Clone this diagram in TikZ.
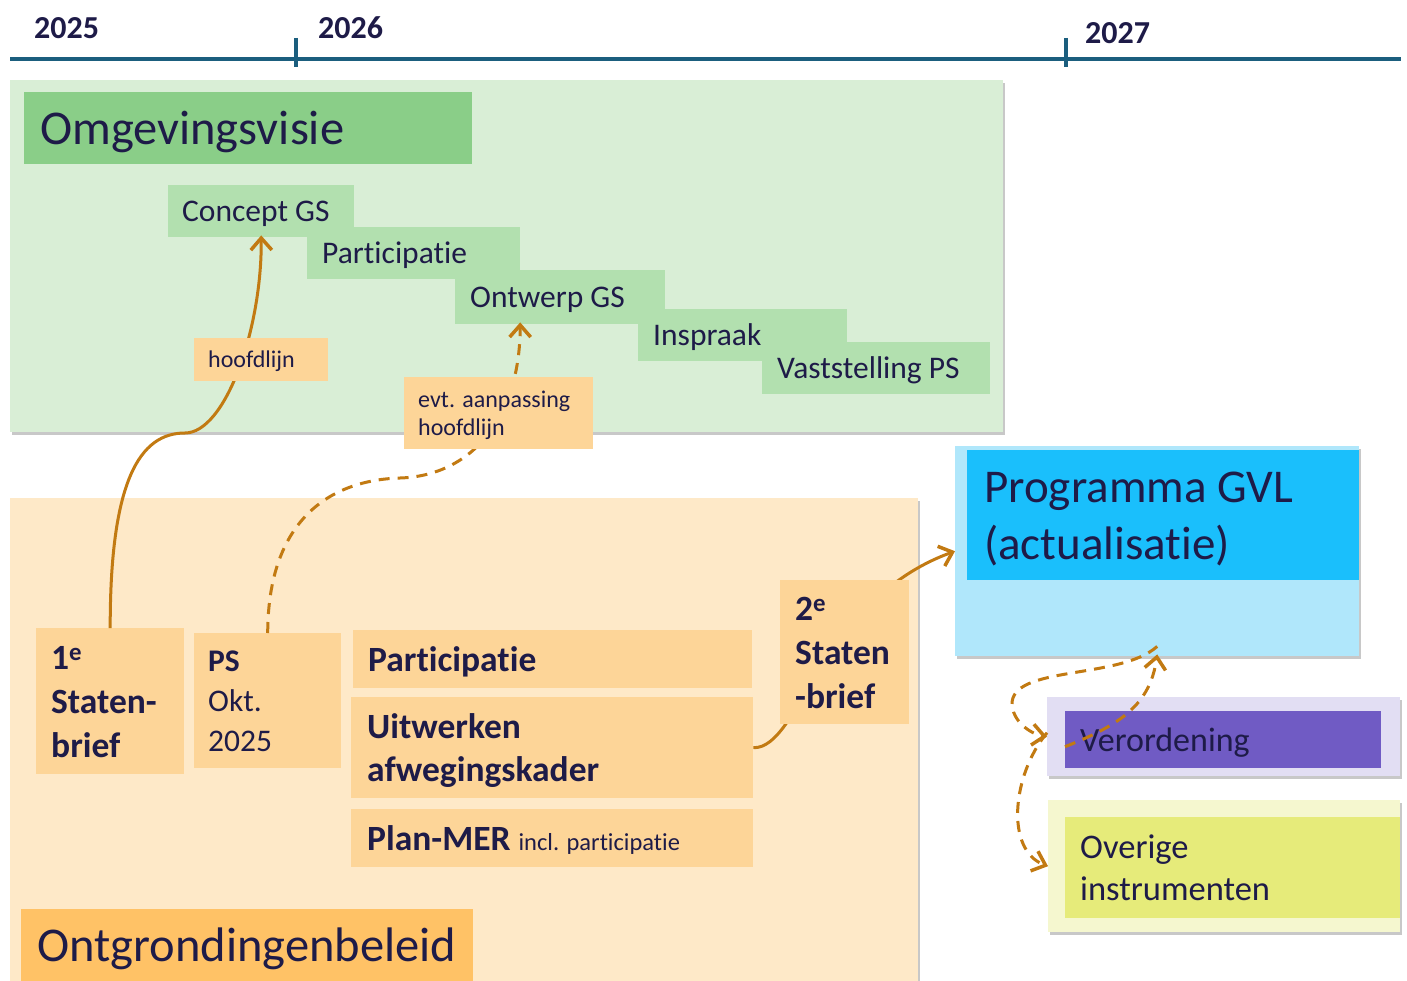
\documentclass[tikz,border=0pt]{standalone}
\usepackage{fontspec}
\setmainfont{Carlito}[Ligatures=NoCommon]
\usetikzlibrary{arrows.meta,shadows}
\definecolor{ink}{HTML}{1E1B48}
\definecolor{tline}{HTML}{1B5E7E}
\definecolor{greenbg}{HTML}{D9EED6}
\definecolor{greenhead}{HTML}{8ACE88}
\definecolor{greenstep}{HTML}{B2E0AF}
\definecolor{orangebg}{HTML}{FEE9C8}
\definecolor{orangebox}{HTML}{FDD598}
\definecolor{orangehead}{HTML}{FFC266}
\definecolor{bluebg}{HTML}{B0E7FB}
\definecolor{bluehead}{HTML}{1ABFFC}
\definecolor{purplebg}{HTML}{E2DEF3}
\definecolor{purplebox}{HTML}{705BC4}
\definecolor{yellowbg}{HTML}{F5F7CF}
\definecolor{yellowbox}{HTML}{E6EB7A}
\definecolor{arrowc}{HTML}{C27A12}
\newcommand\myfs[2]{\fontsize{#1}{#2}\selectfont}
\begin{document}
\begin{tikzpicture}[x=1pt,y=-1pt,
  panel/.style={rectangle, anchor=north west, inner sep=0pt,
    drop shadow={shadow xshift=1.5pt, shadow yshift=-2.5pt, opacity=0.3, fill=black!70}},
  bx/.style={rectangle, anchor=north west, inner ysep=0pt, align=flush left, text=ink},
  yearlbl/.style={anchor=west, inner sep=0pt, text=ink, font=\bfseries\myfs{32}{38}, text height=21pt, text depth=0pt},
  flow/.style={draw=arrowc, line width=3pt, -{Straight Barb[length=12pt,width=21pt,line width=3.5pt]}},
  dflow/.style={flow, dash pattern=on 11pt off 8pt}
]
\useasboundingbox (0,0) rectangle (1407,981);
\fill[white] (0,0) rectangle (1407,981);

% timeline
\coordinate (tl0) at (10,59);
\coordinate (tl1) at (1401,59);
\coordinate (tk1a) at (296,38);
\coordinate (tk1b) at (296,67);
\coordinate (tk2a) at (1066,38);
\coordinate (tk2b) at (1066,67);
\draw[tline, line width=4pt] (tl0) -- (tl1);
\draw[tline, line width=4pt] (tk1a) -- (tk1b);
\draw[tline, line width=4pt] (tk2a) -- (tk2b);
\node[yearlbl] (y25) at (34,28) {2025};
\node[yearlbl] (y26) at (318,28) {2026};
\node[yearlbl] (y27) at (1085,33) {2027};

% Omgevingsvisie panel
\node[panel, fill=greenbg, minimum width=993pt, minimum height=352pt] (ovpanel) at (10,80) {};
\node[bx, fill=greenhead, inner xsep=16pt, text width=416pt, minimum height=72pt, font=\myfs{48.5}{56}, text height=33pt, text depth=0pt] (ovhead) at (24,92) {Omgevingsvisie};
\node[bx, fill=greenstep, inner xsep=14pt, text width=158pt, minimum height=52pt, font=\myfs{31.5}{36}, text height=21.4pt, text depth=0pt] (concept) at (168,185) {Concept GS};
\node[bx, fill=greenstep, inner xsep=15pt, text width=183pt, minimum height=52pt, font=\myfs{31.5}{36}, text height=21.4pt, text depth=0pt] (partic1) at (307,227) {Participatie};
\node[bx, fill=greenstep, inner xsep=15pt, text width=180pt, minimum height=54pt, font=\myfs{31.5}{36}, text height=21.4pt, text depth=0pt] (ontwerp) at (455,270) {Ontwerp GS};
\node[bx, fill=greenstep, inner xsep=15pt, text width=179pt, minimum height=52pt, font=\myfs{31.5}{36}, text height=21.4pt, text depth=0pt] (inspraak) at (638,309) {Inspraak};
\node[bx, fill=greenstep, inner xsep=15pt, text width=198pt, minimum height=52pt, font=\myfs{31.5}{36}, text height=21.4pt, text depth=0pt] (vast) at (762,342) {Vaststelling PS};

% Ontgrondingenbeleid panel
\node[panel, fill=orangebg, minimum width=908pt, minimum height=490pt] (ogpanel) at (10,498) {};
\node[bx, fill=orangebox, inner xsep=15pt, text width=118pt, minimum height=146pt, font=\bfseries\myfs{35.5}{44}, text height=24pt, text depth=88pt] (s1) at (36,628) {1\textsuperscript{e}\\Staten-\\brief};
\node[bx, fill=orangebox, inner xsep=14pt, text width=119pt, minimum height=135pt, font=\myfs{31.5}{40}, text height=21.4pt, text depth=80pt] (ps) at (194,633) {\textbf{PS}\\Okt.\\2025};
\node[bx, fill=orangebox, inner xsep=15pt, text width=369pt, minimum height=58pt, font=\bfseries\myfs{35.5}{43}, text height=24pt, text depth=0pt] (partic2) at (353,630) {Participatie};
\node[bx, fill=orangebox, inner xsep=16pt, text width=370pt, minimum height=101pt, font=\bfseries\myfs{35.5}{43}, text height=24pt, text depth=43pt] (uitw) at (351,697) {Uitwerken\\afwegingskader};
\node[bx, fill=orangebox, inner xsep=16pt, text width=370pt, minimum height=58pt, font=\bfseries\myfs{35.5}{43}, text height=24pt, text depth=0pt] (planmer) at (351,809) {Plan-MER {\mdseries\myfs{24.5}{28}incl. participatie}};
\node[bx, fill=orangehead, inner xsep=16pt, text width=420pt, minimum height=72pt, font=\myfs{48.5}{56}, text height=33pt, text depth=0pt] (oghead) at (21,909) {Ontgrondingenbeleid};

% Programma GVL
\node[panel, fill=bluebg, minimum width=404pt, minimum height=210pt] (progout) at (955,446) {};
\node[bx, fill=bluehead, inner xsep=17pt, text width=358pt, minimum height=130pt, font=\myfs{47}{57}, text height=32pt, text depth=57pt] (proghead) at (967,450) {Programma GVL\\(actualisatie)};

% Verordening
\node[panel, fill=purplebg, minimum width=353pt, minimum height=79pt] (verout) at (1047,697) {};
\node[bx, fill=purplebox, inner xsep=15pt, text width=286pt, minimum height=57pt, font=\myfs{34}{40}, text height=23pt, text depth=0pt] (ver) at (1065,711) {Verordening};

% Overige instrumenten
\node[panel, fill=yellowbg, minimum width=352pt, minimum height=132pt] (ovout) at (1048,800) {};
\node[bx, fill=yellowbox, inner xsep=15pt, text width=305pt, minimum height=101pt, font=\myfs{34.5}{42}, text height=23.5pt, text depth=42pt] (ov) at (1065,817) {Overige\\instrumenten};

% connectors
\draw[flow] (s1.north) .. controls (110,480) and (140,433) .. (185,433)
  .. controls (225,433) and (262,330) .. ([yshift=2pt]concept.south);
\draw[dflow] (ps.north) .. controls (268,520) and (330,480) .. (400,478)
  .. controls (470,476) and (520,420) .. ([xshift=-40pt,yshift=2pt]ontwerp.south);
\draw[flow] (uitw.east) .. controls (800,749) and (820,600) .. (progout.west);

\draw[dflow] ([yshift=-7pt]ver.west) .. controls (1120,725) and (1150,705) .. ([yshift=2pt]progout.south);
\draw[dflow] ([yshift=10pt]progout.south) .. controls (1120,680) and (1010,665) .. (1012,705)
  .. controls (1014,725) and (1035,735) .. (verout.west);
\draw[dflow] ([yshift=4pt]verout.west) .. controls (1012,775) and (1005,850) .. (ovout.west);

% labels on top of connectors
\node[bx, fill=orangebox, inner xsep=14pt, text width=106pt, minimum height=43pt, font=\myfs{24}{28}, text height=16.5pt, text depth=0pt] (hoofd) at (194,338) {hoofdlijn};
\node[bx, fill=orangebox, inner xsep=14pt, text width=161pt, minimum height=72pt, font=\myfs{24}{28}, text height=16.5pt, text depth=28pt] (evt) at (404,377) {evt. aanpassing\\hoofdlijn};
\node[bx, fill=orangebox, inner xsep=15pt, text width=99pt, minimum height=144pt, font=\bfseries\myfs{35.5}{44}, text height=24pt, text depth=88pt] (s2) at (780,580) {2\textsuperscript{e}\\Staten\\-brief};
\end{tikzpicture}
\end{document}
